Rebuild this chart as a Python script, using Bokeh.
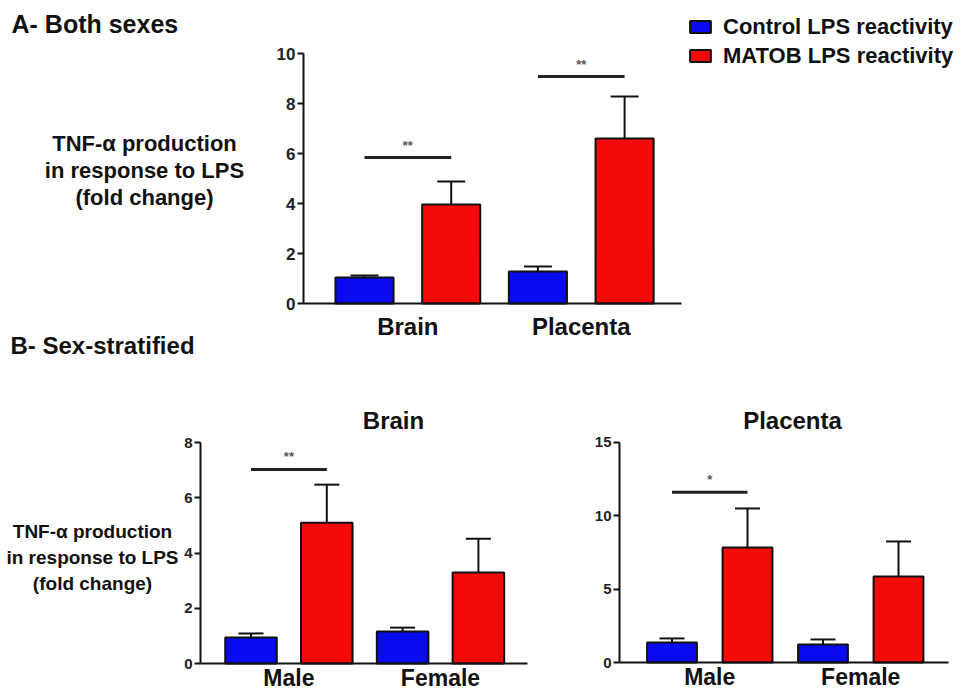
from bokeh.plotting import figure
from bokeh.models import (FixedTicker, Whisker, TeeHead, ColumnDataSource, Label,
                          Legend, LegendItem, Range1d, LinearAxis)
from bokeh.embed import file_html
from bokeh.resources import INLINE
from bokeh.core.properties import value

# ---------------- data ----------------
series = ["Control LPS reactivity", "MATOB LPS reactivity"]

tissues = ["Brain", "Placenta"]
both_ctrl = [1.04, 1.28]
both_ctrl_err = [0.08, 0.20]
both_matob = [3.96, 6.60]
both_matob_err = [0.92, 1.68]
both_sig_group = [0, 1]
both_sig_height = [5.84, 9.08]
both_sig_label = ["**", "**"]
both_yticks = [0, 2, 4, 6, 8, 10]

sexes = ["Male", "Female"]
brain_ctrl = [0.94, 1.16]
brain_ctrl_err = [0.15, 0.14]
brain_matob = [5.10, 3.30]
brain_matob_err = [1.38, 1.22]
brain_sig_group = [0]
brain_sig_height = [7.03]
brain_sig_label = ["**"]
brain_yticks = [0, 2, 4, 6, 8]

plac_ctrl = [1.36, 1.23]
plac_ctrl_err = [0.28, 0.34]
plac_matob = [7.84, 5.86]
plac_matob_err = [2.66, 2.39]
plac_sig_group = [0]
plac_sig_height = [11.6]
plac_sig_label = ["*"]
plac_yticks = [0, 5, 10, 15]

y_label_lines = ["TNF-\u03b1 production", "in response to LPS", "(fold change)"]

# ---------------- style / layout ----------------
W, H = 963, 698
FONT = "Liberation Sans"
BLUE = "#0a0aee"
RED = "#f50a0a"
INK = "#111111"

# page-pixel canvas for free texts (y grows downwards)
p = figure(width=W, height=H, x_range=Range1d(0, W), y_range=Range1d(H, 0),
           output_backend="svg", toolbar_location=None,
           x_axis_location=None, y_axis_location=None,
           min_border_left=0, min_border_right=0, min_border_top=0, min_border_bottom=0)
p.grid.visible = False
p.outline_line_color = None
p.background_fill_color = "white"
p.border_fill_color = "white"


def add_panel(name, x0px, xppu, y0px, yppu, ax_left_px, ax_right_px, ymax,
              groups, ctrl, ctrl_err, mat, mat_err, sig_group, sig_height, sig_label,
              yticks, bar_w, cap, tick_fs, cat_fs, cat_standoff):
    xn, yn = name + "_x", name + "_y"
    p.extra_x_ranges[xn] = Range1d(-x0px / xppu, (W - x0px) / xppu)
    p.extra_y_ranges[yn] = Range1d((y0px - H) / yppu, y0px / yppu)
    ax_l = (ax_left_px - x0px) / xppu
    ax_r = (ax_right_px - x0px) / xppu
    kw = dict(x_range_name=xn, y_range_name=yn)

    xc = [2 * i for i in range(len(groups))]
    xm = [2 * i + 1 for i in range(len(groups))]
    src_c = ColumnDataSource(dict(x=xc, top=ctrl, upper=[v + e for v, e in zip(ctrl, ctrl_err)]))
    src_m = ColumnDataSource(dict(x=xm, top=mat, upper=[v + e for v, e in zip(mat, mat_err)]))
    for src in (src_c, src_m):
        p.add_layout(Whisker(source=src, base="x", lower="top", upper="upper",
                             dimension="height", line_width=2, line_color=INK,
                             upper_head=TeeHead(size=cap, line_width=2, line_color=INK),
                             lower_head=None, level="glyph", **kw))
    rc = p.vbar(x="x", top="top", bottom=0, width=bar_w, source=src_c,
                fill_color=BLUE, line_color=INK, line_width=2, **kw)
    rm = p.vbar(x="x", top="top", bottom=0, width=bar_w, source=src_m,
                fill_color=RED, line_color=INK, line_width=2, **kw)

    sig_src = ColumnDataSource(dict(
        x0=[2 * g for g in sig_group], x1=[2 * g + 1 for g in sig_group],
        xm=[2 * g + 0.5 for g in sig_group], y=sig_height, t=sig_label))
    p.segment(x0="x0", y0="y", x1="x1", y1="y", source=sig_src, line_width=3,
              line_color="#222222", **kw)
    p.text(x="xm", y="y", text="t", source=sig_src, text_align="center",
           text_baseline="bottom", y_offset=-5, text_font=value(FONT),
           text_font_style="bold", text_font_size="13px", text_color="#555555", **kw)

    ya = LinearAxis(fixed_location=ax_l, bounds=(0, ymax), ticker=FixedTicker(ticks=yticks), **kw)
    ya.axis_line_width = 2
    ya.axis_line_color = INK
    ya.major_tick_line_width = 2
    ya.major_tick_line_color = INK
    ya.major_tick_out = 6
    ya.major_tick_in = 0
    ya.minor_tick_line_color = None
    ya.major_label_standoff = 2
    ya.major_label_text_font = FONT
    ya.major_label_text_font_style = "bold"
    ya.major_label_text_font_size = tick_fs
    ya.major_label_text_color = "#222222"
    p.add_layout(ya, "left")

    cat_ticks = [2 * i + 0.5 for i in range(len(groups))]
    xa = LinearAxis(fixed_location=0, bounds=(ax_l, ax_r), ticker=FixedTicker(ticks=cat_ticks), **kw)
    xa.major_label_overrides = {t: g for t, g in zip(cat_ticks, groups)}
    xa.axis_line_width = 2
    xa.axis_line_color = INK
    xa.major_tick_line_color = None
    xa.minor_tick_line_color = None
    xa.major_tick_out = 0
    xa.major_tick_in = 0
    xa.major_label_standoff = cat_standoff
    xa.major_label_text_font = FONT
    xa.major_label_text_font_style = "bold"
    xa.major_label_text_font_size = cat_fs
    xa.major_label_text_color = INK
    p.add_layout(xa, "below")
    return rc, rm


def label(x, y, text, size, align="center"):
    p.add_layout(Label(x=x, y=y, text=text, text_align=align, text_baseline="middle",
                       text_font=FONT, text_font_style="bold", text_font_size=size,
                       text_color=INK))


# ---------------- panel A: both sexes ----------------
rca, rma = add_panel("a", 364, 86.7, 303, 25.0, 303, 681, 10, tissues,
                     both_ctrl, both_ctrl_err, both_matob, both_matob_err,
                     both_sig_group, both_sig_height, both_sig_label, both_yticks,
                     0.67, 28, "17px", "24px", 9)

# ---------------- panel B: brain, sex-stratified ----------------
add_panel("b", 250.5, 75.8, 663, 27.6, 200, 527, 8, sexes,
          brain_ctrl, brain_ctrl_err, brain_matob, brain_matob_err,
          brain_sig_group, brain_sig_height, brain_sig_label, brain_yticks,
          0.68, 25, "15px", "23px", 1)

# ---------------- panel C: placenta, sex-stratified ----------------
add_panel("c", 671.5, 75.5, 662, 14.67, 619, 948, 15, sexes,
          plac_ctrl, plac_ctrl_err, plac_matob, plac_matob_err,
          plac_sig_group, plac_sig_height, plac_sig_label, plac_yticks,
          0.66, 25, "15px", "23px", 1)

# ---------------- free texts ----------------
label(11, 23, "A- Both sexes", "25px", "left")
label(10, 345, "B- Sex-stratified", "24px", "left")
for py, t in zip([143, 170, 197], y_label_lines):
    label(144, py, t, "22px")
for py, t in zip([531, 557, 583], y_label_lines):
    label(92, py, t, "19px")
label(393, 420, "Brain", "24px")
label(792, 420, "Placenta", "24px")

legend = Legend(items=[LegendItem(label=series[0], renderers=[rca]),
                       LegendItem(label=series[1], renderers=[rma])],
                location=(687, 628), orientation="vertical", padding=0, spacing=0,
                margin=0, border_line_color=None, background_fill_alpha=0,
                glyph_width=26, glyph_height=15, label_height=29, label_standoff=10,
                label_text_font=FONT, label_text_font_style="bold",
                label_text_font_size="22px", label_text_color=INK)
p.add_layout(legend, "center")

with open("out.html", "w") as f:
    f.write(file_html(p, INLINE))
